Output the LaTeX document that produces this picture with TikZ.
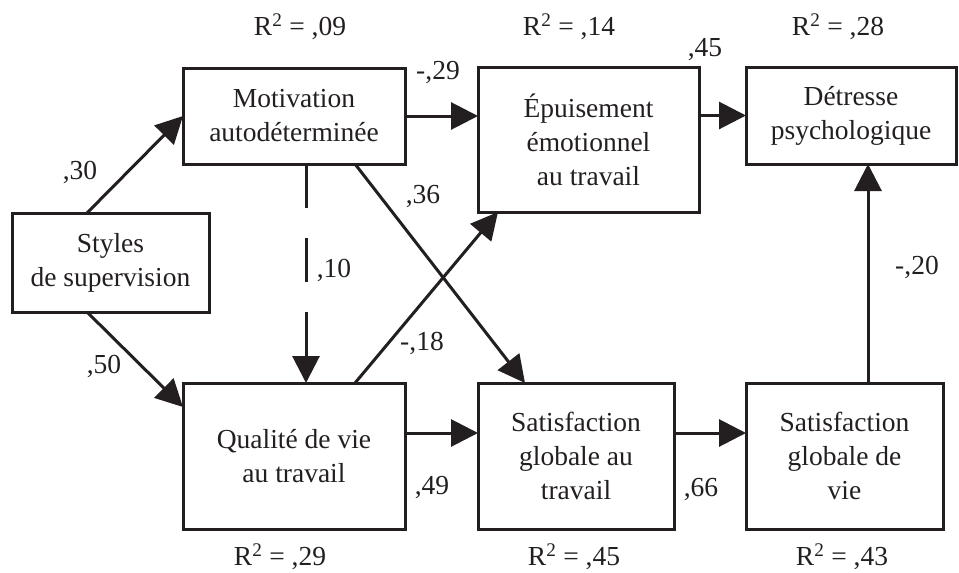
\documentclass[tikz,border=0pt]{standalone}
\usepackage{fontspec}
\setmainfont{Liberation Serif}
\newfontfamily\timesfam{Liberation Serif}
\usetikzlibrary{arrows.meta}
\definecolor{ink}{RGB}{35,31,32}
\tikzset{
  box/.style={draw=ink, line width=3pt, inner sep=0pt, outer sep=0pt, align=center,
    text=ink, font=\timesfam\fontsize{27.5}{34}\selectfont},
  lab/.style={text=ink, inner sep=0pt, font=\timesfam\fontsize{27.5}{34}\selectfont},
  conn/.style={draw=ink, line width=3pt, -{Triangle[length=27pt,width=27pt]}},
}
\begin{document}
\begin{tikzpicture}[x=1pt,y=-1pt]
\useasboundingbox (0,0) rectangle (959,573);
\node[box, minimum width=197pt, minimum height=99pt] (S) at (110.5,262.5) {Styles\\de supervision};
\node[box, minimum width=222pt, minimum height=96pt] (M) at (294,116) {Motivation\\autodéterminée};
\node[box, minimum width=221pt, minimum height=145pt] (E) at (588.5,139.5) {Épuisement\\émotionnel\\au travail};
\node[box, minimum width=210pt, minimum height=97pt] (D) at (851,115.5) {Détresse\\psychologique};
\node[box, minimum width=222pt, minimum height=146pt] (Q) at (294,456) {Qualité de vie\\au travail};
\node[box, minimum width=196pt, minimum height=146pt] (ST) at (576,456) {Satisfaction\\globale au\\travail};
\node[box, minimum width=197pt, minimum height=146pt] (SV) at (844.5,456) {Satisfaction\\globale de\\vie};

\draw[conn] ([xshift=-23.5pt]S.north) -- (M.west);
\draw[conn] ([xshift=-23.5pt]S.south) -- ([yshift=49pt]Q.west);
\draw[conn] (M.east) -- (M.east -| E.west);
\draw[conn] (D.west -| E.east) -- (D.west);
\draw[conn, dash pattern=on 44pt off 30pt] ([xshift=12pt]M.south) -- ([xshift=12pt]Q.north);
\draw[conn] ([xshift=61pt]M.south) -- ([xshift=-51pt]ST.north);
\draw[conn] ([xshift=61pt]Q.north) -- ([xshift=-90.5pt]E.south);
\draw[conn] ([yshift=23pt]Q.east) -- ([yshift=23pt]ST.west);
\draw[conn] ([yshift=23pt]ST.east) -- ([yshift=23pt]SV.west);
\draw[conn] ([xshift=23.5pt]SV.north) -- ([xshift=17pt]D.south);

\node[lab] (r1) at (300,27) {R\textsuperscript{2} = ,09};
\node[lab] (r2) at (569,27) {R\textsuperscript{2} = ,14};
\node[lab] (r3) at (838,27) {R\textsuperscript{2} = ,28};
\node[lab] (r4) at (280,557) {R\textsuperscript{2} = ,29};
\node[lab] (r5) at (574,557) {R\textsuperscript{2} = ,45};
\node[lab] (r6) at (842,557) {R\textsuperscript{2} = ,43};

\node[lab] (l30) at (80,172) {,30};
\node[lab] (l50) at (104,366) {,50};
\node[lab] (l29) at (438,73) {-,29};
\node[lab] (l45) at (705,50) {,45};
\node[lab] (l36) at (423,197) {,36};
\node[lab] (l10) at (334,270) {,10};
\node[lab] (l18) at (422,343) {-,18};
\node[lab] (l49) at (432,488) {,49};
\node[lab] (l66) at (701,490) {,66};
\node[lab] (l20) at (917,267) {-,20};
\end{tikzpicture}
\end{document}
